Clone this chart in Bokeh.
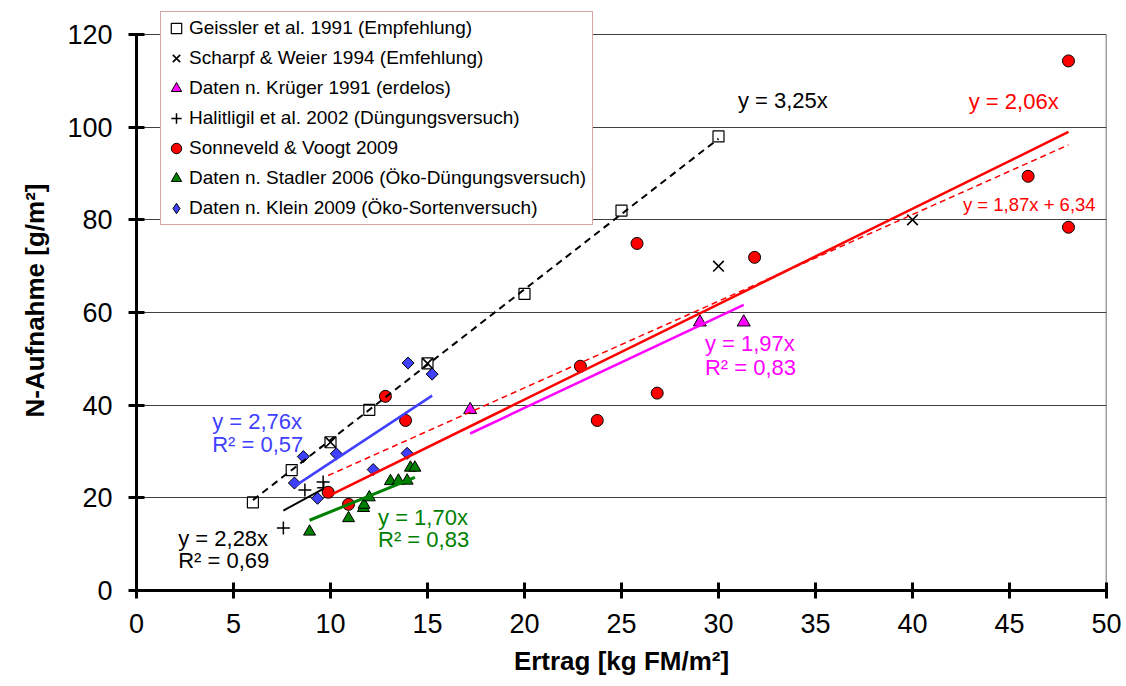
from bokeh.plotting import figure
from bokeh.models import Range1d, Legend, LegendItem, Label, FixedTicker
from bokeh.embed import file_html
from bokeh.resources import INLINE
import numpy as np

# ---------------- data ----------------
geissler_x = [6, 8, 10, 12, 15, 20, 25, 30]
geissler_y = [19, 26, 32, 39, 49, 64, 82, 98]

scharpf_x = [10, 15, 30, 40]
scharpf_y = [32, 49, 70, 80]

krueger_x = [17.2, 29.04, 31.3]
krueger_y = [39, 57.9, 57.9]

halit_x = [7.57, 8.68, 9.62, 9.65]
halit_y = [13.5, 21.7, 23.4, 22.2]

sonne_x = [9.88, 10.93, 12.83, 13.87, 22.88, 23.75, 25.8, 26.84, 31.86, 45.96, 48.04, 48.04]
sonne_y = [21.2, 18.6, 41.9, 36.7, 48.4, 36.7, 74.9, 42.6, 71.9, 89.4, 114.3, 78.4]

stadler_x = [8.92, 10.93, 11.7, 11.73, 12.0, 13.09, 13.5, 13.95, 14.12, 14.35]
stadler_y = [12.7, 15.6, 17.8, 18.5, 20.1, 23.6, 23.7, 23.7, 26.5, 26.5]

klein_x = [8.14, 8.6, 10.3, 9.33, 12.2, 13.95, 14.0, 15.24]
klein_y = [23.2, 28.9, 29.5, 19.9, 26.1, 29.6, 49.1, 46.7]

# trendline slopes (through origin) and Sonneveld linear fit
slope_geissler = 3.25
slope_halit = 2.28
slope_sonne = 2.06
slope_krueger = 1.97
slope_stadler = 1.70
slope_klein = 2.76
lin_sonne = (1.87, 6.34)

legend_labels = [
    "Geissler et al. 1991 (Empfehlung)",
    "Scharpf & Weier 1994 (Emfehlung)",
    "Daten n. Krüger 1991 (erdelos)",
    "Halitligil et al. 2002 (Düngungsversuch)",
    "Sonneveld & Voogt 2009",
    "Daten n. Stadler 2006 (Öko-Düngungsversuch)",
    "Daten n. Klein 2009 (Öko-Sortenversuch)",
]

x_ticks = [0, 5, 10, 15, 20, 25, 30, 35, 40, 45, 50]
y_ticks = [0, 20, 40, 60, 80, 100, 120]

FONT = "Liberation Sans"
RED = "#ff0000"
MAG = "#ff00ff"
GREEN = "#008000"
BLUE = "#4040ff"

# frame extends 24 px above the 120 line so that the legend box can overlap the top
px_per_unit = 556 / 120.0
y_top = y_ticks[-1] + 24 / px_per_unit

p = figure(width=1126, height=686, output_backend="svg", toolbar_location=None,
           x_range=Range1d(0, 50), y_range=Range1d(0, y_top),
           min_border_left=136, min_border_right=20, min_border_top=10, min_border_bottom=96)
p.background_fill_color = "white"
p.border_fill_color = "white"
p.outline_line_color = None

# axes
for ax in (p.xaxis[0], p.yaxis[0]):
    ax.axis_line_width = 3
    ax.axis_line_color = "black"
    ax.major_tick_line_width = 3
    ax.major_tick_line_color = "black"
    ax.major_tick_in = 8
    ax.major_tick_out = 8
    ax.minor_tick_line_color = None
    ax.major_label_text_font = FONT
    ax.major_label_text_font_size = "27px"
    ax.major_label_text_color = "black"
    ax.axis_label_text_font = FONT
    ax.axis_label_text_font_style = "bold"
    ax.axis_label_text_font_size = "26px"
    ax.axis_label_text_color = "black"

p.yaxis.bounds = (y_ticks[0], y_ticks[-1])
p.xaxis.ticker = FixedTicker(ticks=x_ticks)
p.yaxis.ticker = FixedTicker(ticks=y_ticks)
p.xaxis.axis_label = "Ertrag [kg FM/m²]"
p.yaxis.axis_label = "N-Aufnahme [g/m²]"
p.xaxis.major_label_standoff = 15
p.yaxis.major_label_standoff = 16
p.xaxis.axis_label_standoff = 10
p.yaxis.axis_label_standoff = 14

p.xgrid.grid_line_color = None
p.ygrid.grid_line_color = "#404040"
p.ygrid.grid_line_width = 1
p.ygrid.ticker = FixedTicker(ticks=y_ticks[1:])

# right border of the plot area
p.segment(x0=[x_ticks[-1]], y0=[y_ticks[0]], x1=[x_ticks[-1]], y1=[y_ticks[-1]],
          line_color="#404040", line_width=1.5)

# scatter markers
r_geissler = p.scatter(geissler_x, geissler_y, marker="square", size=11,
                       fill_color=None, line_color="black", line_width=1.2)
r_scharpf = p.scatter(scharpf_x, scharpf_y, marker="x", size=15,
                      line_color="black", line_width=1.6)
r_krueger = p.scatter(krueger_x, krueger_y, marker="triangle", size=13,
                      fill_color=MAG, line_color="black", line_width=1)
r_halit = p.scatter(halit_x, halit_y, marker="cross", size=13,
                    line_color="black", line_width=1.5)
r_sonne = p.scatter(sonne_x, sonne_y, marker="circle", size=12,
                    fill_color=RED, line_color="black", line_width=1)
r_stadler = p.scatter(stadler_x, stadler_y, marker="triangle", size=12,
                      fill_color=GREEN, line_color="black", line_width=1)
p.scatter(klein_x, klein_y, marker="square", angle=np.pi / 4, size=8.5,
          fill_color=BLUE, line_color="black", line_width=1)
# legend glyph for the diamonds (legend glyphs ignore the marker angle); not drawn in the plot
r_klein_leg = p.scatter(np.array([np.nan]), np.array([np.nan]), marker="diamond", size=14,
                        fill_color=BLUE, line_color="black", line_width=1)

# trend lines (drawn over the markers)
def through_origin(xs, k):
    xr = np.array([min(xs), max(xs)])
    return xr, k * xr

xr, yr = through_origin(geissler_x, slope_geissler)
p.line(xr, yr, line_color="black", line_width=2, line_dash="7 5")
xr, yr = through_origin(halit_x, slope_halit)
p.line(xr, yr, line_color="black", line_width=2)
xr, yr = through_origin(sonne_x, slope_sonne)
p.line(xr, yr, line_color=RED, line_width=2.5)
xr = np.array([min(sonne_x), max(sonne_x)])
p.line(xr, lin_sonne[0] * xr + lin_sonne[1], line_color=RED, line_width=1.5, line_dash="6 4")
xr, yr = through_origin(krueger_x, slope_krueger)
p.line(xr, yr, line_color=MAG, line_width=2.5)
xr, yr = through_origin(stadler_x, slope_stadler)
p.line(xr, yr, line_color=GREEN, line_width=3)
xr, yr = through_origin(klein_x, slope_klein)
p.line(xr, yr, line_color=BLUE, line_width=2.5)

# equation labels
def lab(x, y, txt, color, size="22px"):
    p.add_layout(Label(x=x, y=y, text=txt, text_color=color, text_font=FONT,
                       text_font_size=size, text_baseline="middle", text_align="left"))

lab(31.0, 105.8, "y = 3,25x", "black")
lab(42.9, 105.5, "y = 2,06x", RED)
lab(42.6, 83.3, "y = 1,87x + 6,34", RED, "18.5px")
lab(29.3, 53.3, "y = 1,97x", MAG)
lab(29.3, 48.1, "R² = 0,83", MAG)
lab(3.9, 36.5, "y = 2,76x", BLUE)
lab(3.9, 31.5, "R² = 0,57", BLUE)
lab(2.15, 11.3, "y = 2,28x", "black")
lab(2.15, 6.5, "R² = 0,69", "black")
lab(12.45, 15.8, "y = 1,70x", GREEN)
lab(12.45, 11.0, "R² = 0,83", GREEN)

# legend
renderers = [r_geissler, r_scharpf, r_krueger, r_halit, r_sonne, r_stadler, r_klein_leg]
items = [LegendItem(label=l, renderers=[r]) for l, r in zip(legend_labels, renderers)]
legend = Legend(items=items, location=(24, 365), orientation="vertical",
                label_text_font=FONT, label_text_font_size="19px", label_text_color="black",
                glyph_width=26, glyph_height=28, label_height=28, label_width=401, spacing=2,
                padding=2, margin=0, label_standoff=0,
                border_line_color="#b05050", border_line_width=1.3,
                background_fill_color="white", background_fill_alpha=1)
p.add_layout(legend, "center")

open("out.html", "w").write(file_html(p, INLINE))
